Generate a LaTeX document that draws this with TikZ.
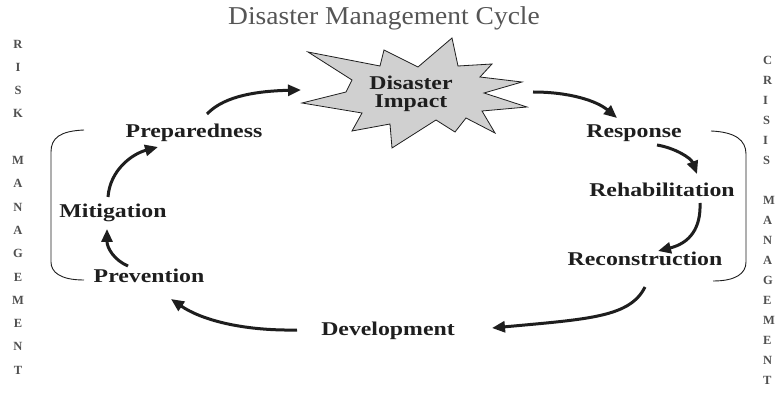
\documentclass[tikz,border=0pt]{standalone}
\usepackage{fontspec}
\setmainfont{Liberation Serif}
\usetikzlibrary{arrows.meta}
\definecolor{ink}{HTML}{1E1E1E}
\definecolor{ttl}{HTML}{555555}
\definecolor{letc}{HTML}{505050}
\definecolor{starfill}{HTML}{D0D0D0}
\newcommand{\wtxt}[1]{\scalebox{1.22}[1]{#1}}
\begin{document}
\begin{tikzpicture}[x=1pt,y=-1pt,
  lbl/.style={font=\fontsize{19.5}{22}\selectfont\bfseries, text=ink, inner sep=0pt, anchor=base},
  arr/.style={draw=ink, line width=3pt, -{Triangle[length=13pt,width=11pt]}},
  brk/.style={draw=ink, line width=0.9pt},
  letL/.style={font=\fontsize{12.5}{13}\selectfont\bfseries, text=letc, inner sep=0pt},
  letR/.style={font=\fontsize{12.5}{13}\selectfont\bfseries, text=letc, inner sep=0pt, anchor=west},
  burst/.style={fill=starfill, draw=ink, line width=0.8pt, line join=miter}
]
\useasboundingbox[fill=white] (0,0) rectangle (777,406);

% title
\node[font=\fontsize{25.7}{28}\selectfont, text=ttl, inner sep=0pt, anchor=base] (title) at (384,25) {\scalebox{1.07}[1]{Disaster Management Cycle}};

% side letters
\foreach \ch [count=\i from 0] in {R,I,S,K}
  \node[letL] (lr\i) at (18,{44+23.3*\i}) {\ch};
\foreach \ch [count=\i from 5] in {M,A,N,A,G,E,M,E,N,T}
  \node[letL] (lm\i) at (18,{44+23.3*\i}) {\ch};
\foreach \ch [count=\i from 0] in {C,R,I,S,I,S}
  \node[letR] (rc\i) at (763,{60+20*\i}) {\ch};
\foreach \ch [count=\i from 7] in {M,A,N,A,G,E,M,E,N,T}
  \node[letR] (rm\i) at (763,{60+20*\i}) {\ch};

% starburst
\path[burst] (308,52) -- (380,66) -- (384,50) -- (418,67) -- (452,38) -- (458,66)
  -- (492,64) -- (480,77) -- (522,82) -- (484,93) -- (527,107) -- (482,111)
  -- (495,133) -- (466,118) -- (455,132) -- (436,120) -- (392,148) -- (390,124)
  -- (352,131) -- (362,113) -- (302,103) -- (346,92) -- (352,80) -- cycle;
\node[font=\fontsize{19.5}{18}\selectfont\bfseries, text=ink, inner sep=0pt, align=center] (impact) at (411,94) {\wtxt{Disaster}\\\wtxt{Impact}};

% stage labels
\node[lbl] (prep)  at (194,138) {\wtxt{Preparedness}};
\node[lbl] (mitig) at (113,218) {\wtxt{Mitigation}};
\node[lbl] (prev)  at (149,283) {\wtxt{Prevention}};
\node[lbl] (resp)  at (634,138) {\wtxt{Response}};
\node[lbl] (rehab) at (662,197) {\wtxt{Rehabilitation}};
\node[lbl] (recon) at (645,266) {\wtxt{Reconstruction}};
\node[lbl] (dev)   at (388,335) {\wtxt{Development}};

% arrow end points
\coordinate (prepOut) at (207,114);
\coordinate (impactIn) at (301,90);
\coordinate (impactOut) at (533,92);
\coordinate (respIn) at (617,118);
\coordinate (respOut) at (657,145);
\coordinate (rehabIn) at (697,174);
\coordinate (rehabOut) at (700,203);
\coordinate (reconIn) at (658,251);
\coordinate (reconOut) at (645,287);
\coordinate (devIn) at (492,328);
\coordinate (devOut) at (297,330);
\coordinate (prevIn) at (171,299);
\coordinate (prevOut) at (128,266);
\coordinate (mitigIn) at (107,229);
\coordinate (mitigOut) at (108,197);
\coordinate (prepIn) at (158,147);

% cycle arrows
\draw[arr] (prepOut) .. controls (225,95) and (260,91) .. (impactIn);
\draw[arr] (impactOut) .. controls (570,92) and (597,101) .. (respIn);
\draw[arr] (respOut) .. controls (675,148) and (691,158) .. (rehabIn);
\draw[arr] (rehabOut) .. controls (701,228) and (690,243) .. (reconIn);
\draw[arr] (reconOut) .. controls (630,317) and (590,319) .. (devIn);
\draw[arr] (devOut) .. controls (240,331) and (200,319) .. (prevIn);
\draw[arr] (prevOut) .. controls (114,260) and (107,248) .. (mitigIn);
\draw[arr] (mitigOut) .. controls (110,170) and (132,154) .. (prepIn);

% brackets
\coordinate (lbTop) at (84,130);
\coordinate (lbBot) at (84,280);
\coordinate (rbTop) at (711,131);
\coordinate (rbBot) at (713,281);
\draw[brk] (lbTop) .. controls (60,131) and (51,138) .. (51,152) -- (51,262)
  .. controls (51,272) and (60,280) .. (lbBot);
\draw[brk] (rbTop) .. controls (735,132) and (746,140) .. (746,154) -- (746,262)
  .. controls (746,274) and (735,281) .. (rbBot);
\end{tikzpicture}
\end{document}
